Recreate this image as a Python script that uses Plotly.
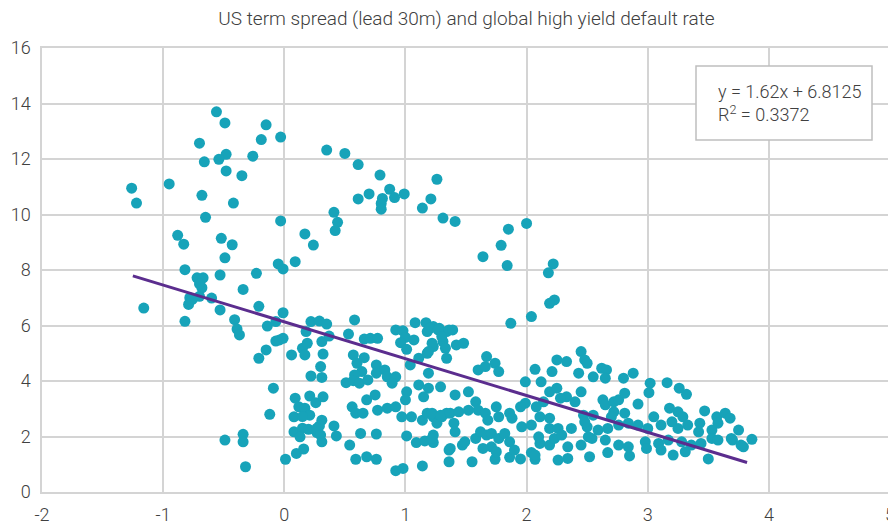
import plotly.graph_objects as go

# US term spread (lead 30m), %  -> x ; global high yield default rate, % -> y
term_spread = [
    -0.56, -0.49, -0.15, -0.03, -0.19, -0.70, -0.48, -0.54, -0.26, -0.66, -0.48, -0.35, -1.26, -0.95, -1.22,
    -0.68, -0.42, -0.65, -0.03, -0.88, -0.83, -0.52, -0.43, -0.49, -0.82, -0.05, -0.01, -0.23, -0.53, -0.72,
    -0.67, -0.68, -0.34, -0.70, -0.78, -0.60, -0.79, -1.16, -0.53, -0.21, -0.01, -0.82, -0.41, -0.39, -0.37,
    -0.14, -0.07, -0.76, -0.70, -0.21, -0.15, -0.07, -0.04, -0.01, -0.09, -0.12, -0.49, -0.34, -0.34, -0.32,
    0.01, 0.06, 0.10, 0.16, 0.09,
    0.35, 0.50, 0.61, 0.79, 1.26, 0.61, 0.70, 0.87, 0.81, 0.80, 0.80, 0.91, 0.99, 1.14, 1.21, 1.31, 1.41,
    0.41, 0.44, 0.42, 0.17, 0.24, 1.64, 1.79, 1.85, 2.00, 1.84, 2.22, 2.18, 2.23, 2.19, 2.04, 1.87,
    0.22, 0.29, 0.35, 0.18, 0.31, 0.37, 0.15, 0.19, 0.17, 0.32, 0.30, 0.31, 0.22, 0.58, 0.53, 0.66, 0.71,
    0.77, 0.57, 0.66, 0.60, 0.64, 0.58, 0.76, 0.76, 0.83, 0.85, 0.92, 0.89, 0.51, 0.57, 0.62, 0.69, 0.92,
    0.98, 1.00, 0.96, 1.01, 1.07, 1.08, 1.17, 1.18, 1.23, 1.28, 1.34, 1.04, 1.11, 1.19, 1.18, 1.23, 1.34,
    1.31, 1.01, 1.00, 1.05, 1.11, 1.19, 1.15, 1.29,
    0.09, 0.12, 0.17, 0.21, 0.08, 0.21, 0.26, 0.32, 0.31, 0.29, 0.27, 0.08, 0.15, 0.20, 0.13, 0.31, 0.41,
    0.43, 0.54, 0.59, 0.68, 0.76, 0.56, 0.59, 0.65, 0.68, 0.75, 0.77, 0.85, 0.92, 0.63, 0.76, 0.97, 1.01,
    0.92, 0.98, 1.14, 1.09, 1.16, 1.23, 1.23, 1.14, 1.18, 1.23, 1.26, 1.30, 1.34, 1.36, 1.36, 0.15, 0.27, 0.30,
    1.20, 1.27, 1.36, 1.39, 1.30, 1.22, 1.33, 1.19, 1.42, 1.48,
    1.67, 1.60, 1.66, 1.74, 1.77, 2.07, 1.99, 2.12, 2.21, 2.25, 2.33, 2.45, 2.43, 2.45, 2.48, 2.50, 2.55,
    2.62, 2.66, 2.65, 2.80, 2.88, 1.41, 1.52, 1.58, 1.75, 3.02, 3.01, 3.16, 3.26, 3.32,
    2.40, 2.33, 2.28, 2.19, 2.25, 2.14, 1.99, 1.95, 2.08, 2.11, 2.19,
    2.63, 2.65, 2.72, 2.76, 2.81, 2.92, 2.81, 2.72, 2.70, 2.55, 2.50,
    3.05, 3.18, 3.25, 3.29, 3.47, 3.57, 3.64, 3.68, 3.75, 3.86, 3.70, 3.79, 3.50,
    2.85, 2.67, 2.52, 2.34, 2.26, 1.55, 1.74, 1.86, 1.95, 2.07, 2.04,
    1.22, 1.29, 1.37, 1.44, 1.52, 1.60, 1.66, 1.86, 1.40, 1.41, 1.68, 1.77, 1.88, 1.96, 2.04, 2.19, 2.26,
    2.37, 2.47, 1.22, 1.37, 1.47, 1.49, 1.58, 1.62, 1.67, 1.71, 1.77, 1.82, 1.86, 1.71, 1.75, 1.64, 1.90,
    2.07, 2.11, 2.10, 2.19, 2.23, 2.29, 2.34, 2.45, 2.51, 2.48,
    3.43, 2.59, 2.67, 2.76, 2.84, 2.92, 3.00, 3.11, 3.20, 3.25, 3.33, 3.42, 3.53, 3.58,
    2.54, 2.65, 2.76, 2.84, 2.98, 3.09, 3.17, 3.28, 3.36, 3.44, 3.53, 3.58, 3.69, 3.77,
    2.99, 3.11, 3.21, 3.31,
]
default_rate = [
    13.70, 13.30, 13.23, 12.79, 12.70, 12.57, 12.17, 11.99, 12.10, 11.90, 11.57, 11.40, 10.95, 11.10, 10.41,
    10.69, 10.41, 9.90, 9.77, 9.25, 8.93, 9.14, 8.91, 8.44, 8.01, 8.22, 8.04, 7.88, 7.82, 7.72,
    7.72, 7.36, 7.30, 7.05, 7.00, 6.99, 6.76, 6.63, 6.56, 6.69, 6.46, 6.15, 6.21, 5.87, 5.66,
    5.98, 6.14, 6.94, 7.50, 4.82, 5.12, 5.44, 5.48, 5.54, 3.74, 2.80, 1.87, 2.08, 1.81, 0.91,
    1.18, 4.94, 1.39, 1.55, 8.30,
    12.32, 12.20, 11.80, 11.42, 11.27, 10.56, 10.74, 10.91, 10.58, 10.40, 10.19, 10.61, 10.74, 10.23, 10.56, 9.87, 9.75,
    10.08, 9.72, 9.42, 9.30, 8.90, 8.48, 8.89, 9.47, 9.68, 8.16, 8.22, 7.90, 6.92, 6.80, 6.32, 6.08,
    6.14, 6.16, 6.05, 5.78, 5.42, 5.62, 5.18, 5.36, 4.94, 4.97, 4.52, 4.13, 4.18, 6.20, 5.69, 5.51, 5.54,
    5.54, 4.94, 4.84, 4.64, 4.34, 4.22, 4.58, 4.28, 4.40, 4.15, 4.15, 3.92, 3.94, 4.01, 3.92, 4.04, 5.84,
    5.81, 5.57, 5.38, 5.14, 5.48, 6.10, 6.10, 5.78, 5.96, 5.90, 5.78, 4.58, 4.82, 4.28, 5.00, 5.24, 4.82,
    5.42, 3.61, 3.32, 2.71, 3.86, 3.74, 3.43, 3.79,
    3.38, 3.07, 3.02, 2.77, 2.71, 3.46, 3.22, 3.43, 2.59, 2.38, 2.14, 2.17, 2.30, 2.26, 1.99, 1.81, 2.38,
    2.02, 1.69, 1.18, 1.27, 1.18, 3.07, 2.84, 2.84, 3.32, 3.50, 2.95, 3.02, 3.07, 2.11, 2.09, 2.71, 2.02,
    0.77, 0.85, 0.94, 1.78, 1.84, 2.05, 1.78, 2.59, 2.84, 2.71, 2.48, 2.71, 2.84, 1.51, 1.09, 2.72, 2.30, 2.05,
    5.90, 5.84, 5.84, 5.84, 5.60, 5.36, 5.18, 5.06, 5.30, 5.36,
    4.88, 4.40, 4.52, 4.64, 4.34, 4.42, 3.97, 3.97, 4.34, 4.76, 4.70, 5.06, 4.28, 3.61, 4.76, 4.64, 4.15,
    4.46, 4.40, 4.10, 4.10, 4.28, 3.50, 3.61, 3.25, 3.07, 3.92, 3.58, 3.94, 3.74, 3.52,
    3.25, 3.43, 3.38, 3.61, 3.74, 3.25, 3.20, 3.07, 3.07, 2.71, 2.66,
    3.32, 3.14, 3.25, 3.32, 3.56, 3.17, 2.84, 2.89, 2.71, 2.77, 2.35,
    2.71, 3.02, 2.89, 2.71, 2.92, 2.71, 2.84, 2.66, 2.23, 1.90, 1.87, 1.63, 1.19,
    1.30, 1.42, 1.27, 1.21, 1.15, 1.09, 1.18, 1.25, 1.19, 1.18, 1.42,
    2.84, 2.77, 2.84, 2.89, 2.95, 2.95, 2.84, 2.84, 2.48, 2.17, 2.59, 2.71, 2.66, 2.35, 2.41, 2.29, 2.29,
    2.29, 2.77, 1.93, 1.57, 1.69, 1.81, 1.93, 2.17, 2.05, 2.11, 1.93, 2.11, 1.81, 1.63, 1.45, 1.57, 1.51,
    1.33, 1.75, 1.99, 1.69, 1.93, 2.05, 1.63, 1.69, 1.99, 2.53,
    2.48, 2.23, 2.29, 2.41, 2.48, 2.41, 2.29, 2.41, 2.53, 2.29, 2.41, 2.17, 2.23, 2.48,
    1.93, 1.87, 1.69, 1.63, 1.81, 1.75, 1.87, 1.81, 1.69, 1.75, 1.93, 1.87, 1.93, 1.69,
    1.57, 1.51, 1.33, 1.45,
]

# Linear trendline (as drawn in the source chart)
trend_x = [-1.25, 3.82]
trend_slope = -1.327
trend_intercept = 6.13
trend_y = [trend_slope * v + trend_intercept for v in trend_x]

title_text = "US term spread (lead 30m) and global high yield default rate"
eq_text = "y = 1.62x + 6.8125<br>R<sup>2</sup> = 0.3372"
x_ticks = [-2, -1, 0, 1, 2, 3, 4, 5]
y_ticks = [0, 2, 4, 6, 8, 10, 12, 14, 16]

FONT = "Roboto, 'Open Sans', sans-serif"
TEXT_COLOR = "#404040"
GRID = "#D4D4D4"

# The page body has an 8px default margin, so the figure is sized to fit the window
FIG_W, FIG_H = 888, 524
PLOT_W, PLOT_H = 848, 444


def px_x(p):  # window pixel -> paper fraction (plot area starts at window x=42)
    return (p - 42) / PLOT_W


def px_y(p):  # window pixel -> paper fraction (plot area bottom at window y=492)
    return (492 - p) / PLOT_H


fig = go.Figure()
fig.add_trace(go.Scatter(
    x=term_spread, y=default_rate, mode="markers",
    marker=dict(size=11, color="#17A3B9", line=dict(width=0)),
    showlegend=False, hoverinfo="x+y",
))
fig.add_trace(go.Scatter(
    x=trend_x, y=trend_y, mode="lines",
    line=dict(color="#5B2D8E", width=3),
    showlegend=False, hoverinfo="skip",
))

axis_common = dict(
    showgrid=True, gridcolor=GRID, gridwidth=1.5, zeroline=False,
    showline=True, linecolor=GRID, linewidth=1.5, mirror=True,
    ticks="", tickfont=dict(size=18, color=TEXT_COLOR, family=FONT, weight=300),
    fixedrange=True, automargin=False,
)

fig.update_layout(
    width=FIG_W, height=FIG_H,
    margin=dict(l=34, r=6, t=40, b=40),
    paper_bgcolor="white", plot_bgcolor="white",
    font=dict(family=FONT, color=TEXT_COLOR, size=18, weight=300),
    title=dict(text=title_text, x=458.5 / FIG_W, xanchor="center", y=1 - 10.5 / FIG_H, yanchor="middle",
               yref="container", font=dict(size=19, color=TEXT_COLOR, family=FONT, weight=300)),
    xaxis=dict(range=[-2, 5], tickvals=x_ticks, ticktext=[str(v) for v in x_ticks],
               ticklabelstandoff=6, **axis_common),
    yaxis=dict(range=[0, 16], tickvals=y_ticks, ticktext=[str(v) for v in y_ticks],
               ticklabelstandoff=6, **axis_common),
    shapes=[dict(
        type="rect", xref="paper", yref="paper",
        x0=px_x(696), x1=px_x(872), y0=px_y(140), y1=px_y(66),
        line=dict(color="#BFBFBF", width=1.5), fillcolor="white", layer="above",
    )],
    annotations=[dict(
        text=eq_text, xref="paper", yref="paper",
        x=px_x(716), y=px_y(103), xanchor="left", yanchor="middle",
        showarrow=False, align="left",
        font=dict(size=18, color=TEXT_COLOR, family=FONT, weight=300),
    )],
)

fig.write_html("out.html")
